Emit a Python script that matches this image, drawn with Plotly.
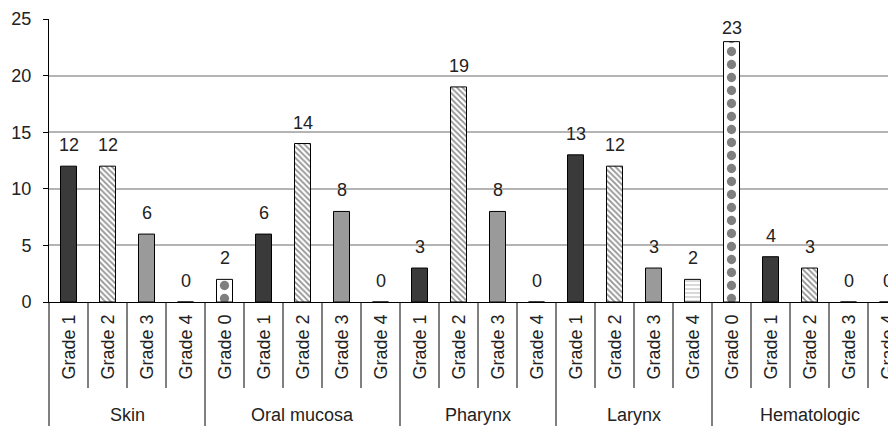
import plotly.graph_objects as go

# ---- data ----
organs = ["Skin", "Oral mucosa", "Pharynx", "Larynx", "Hematologic"]
skin_grades = ["Grade 1", "Grade 2", "Grade 3", "Grade 4"]
skin_values = [12, 12, 6, 0]
oral_grades = ["Grade 0", "Grade 1", "Grade 2", "Grade 3", "Grade 4"]
oral_values = [2, 6, 14, 8, 0]
pharynx_grades = ["Grade 1", "Grade 2", "Grade 3", "Grade 4"]
pharynx_values = [3, 19, 8, 0]
larynx_grades = ["Grade 1", "Grade 2", "Grade 3", "Grade 4"]
larynx_values = [13, 12, 3, 2]
hema_grades = ["Grade 0", "Grade 1", "Grade 2", "Grade 3", "Grade 4"]
hema_values = [23, 4, 3, 0, 0]
grade_names = ["Grade 0", "Grade 1", "Grade 2", "Grade 3", "Grade 4"]
y_ticks = [0, 5, 10, 15, 20, 25]

groups = [skin_grades, oral_grades, pharynx_grades, larynx_grades, hema_grades]
group_vals = [skin_values, oral_values, pharynx_values, larynx_values, hema_values]

# ---- styles per grade ----
style = {
    "Grade 0": dict(color="white", shape=".", fg="black", size=13, sol=0.4),
    "Grade 1": dict(color="#3a3a3a", shape="", fg="black", size=8, sol=0.3),
    "Grade 2": dict(color="white", shape="\\", fg="#222222", size=4, sol=0.45),
    "Grade 3": dict(color="#9a9a9a", shape="", fg="black", size=8, sol=0.3),
    "Grade 4": dict(color="white", shape="-", fg="#666666", size=4, sol=0.25),
}

xs, ys, labels = [], [], []
i = 0
bounds = []
for g, (grs, vals) in enumerate(zip(groups, group_vals)):
    start = i
    for gr, v in zip(grs, vals):
        xs.append(i)
        ys.append(v)
        labels.append(gr)
        i += 1
    bounds.append((start, i - 1))

FONT = "Liberation Sans, Arial, sans-serif"
TXT = "#222222"
FS = 18

fig = go.Figure()
for gname in grade_names:
    st = style[gname]
    gx = [x for x, l in zip(xs, labels) if l == gname]
    gy = [y for y, l in zip(ys, labels) if l == gname]
    marker = dict(color=st["color"], line=dict(color="black", width=1))
    if st["shape"]:
        marker["pattern"] = dict(shape=st["shape"], fgcolor=st["fg"],
                                 bgcolor=st["color"], size=st["size"],
                                 solidity=st["sol"])
    fig.add_trace(go.Bar(x=gx, y=gy, width=0.41, marker=marker,
                         name=gname, showlegend=False))

# page body has an 8px margin; size the figure to fit the 896x426 window
W, H = 888, 418
ml, mr, mt, mb = 41, 0, 11, 124
cat_w = 39
span = (W - ml - mr) / cat_w
plot_h = H - mt - mb

def below(px):
    return -px / plot_h

annotations = []
ymax = max(ys)
for x, v in zip(xs, ys):
    annotations.append(dict(
        x=x, y=v, xref="x", yref="y", text=str(v), showarrow=False,
        yanchor="middle", yshift=21 if v < ymax else 14,
        font=dict(family=FONT, size=FS, color=TXT),
    ))
for x, l in zip(xs, labels):
    annotations.append(dict(
        x=x, y=below(45), xref="x", yref="paper", text=l, showarrow=False,
        textangle=-90, xanchor="center", yanchor="middle",
        font=dict(family=FONT, size=FS, color=TXT),
    ))
shapes = []
for g, (a, b) in enumerate(bounds):
    annotations.append(dict(
        x=(a + b) / 2, y=below(113), xref="x", yref="paper", text=organs[g],
        showarrow=False, xanchor="center", yanchor="middle",
        font=dict(family=FONT, size=FS, color=TXT),
    ))
    for k in range(a, b):
        shapes.append(dict(type="line", xref="x", yref="paper",
                           x0=k + 0.5, x1=k + 0.5, y0=0, y1=below(86),
                           line=dict(color="black", width=1)))
    shapes.append(dict(type="line", xref="x", yref="paper",
                       x0=b + 0.5, x1=b + 0.5, y0=0, y1=below(mb),
                       line=dict(color="black", width=1)))
shapes.append(dict(type="line", xref="paper", yref="paper",
                   x0=0, x1=0, y0=0, y1=below(mb),
                   line=dict(color="black", width=1)))

fig.update_layout(
    width=W, height=H,
    margin=dict(l=ml, r=mr, t=mt, b=mb, autoexpand=False),
    paper_bgcolor="white", plot_bgcolor="white",
    font=dict(family=FONT, size=FS, color=TXT),
    barmode="overlay",
    xaxis=dict(range=[-0.5, -0.5 + span], showticklabels=False, ticks="",
               showgrid=False, zeroline=False, showline=True,
               linecolor="black", linewidth=1, fixedrange=True,
               automargin=False),
    yaxis=dict(range=[0, 25], tickvals=y_ticks, ticks="outside", ticklen=5,
               tickcolor="black", showline=True, linecolor="black", linewidth=1,
               showgrid=True, gridcolor="#b4b4b4", gridwidth=1.5,
               zeroline=False, tickfont=dict(family=FONT, size=FS, color=TXT),
               ticklabelstandoff=8,
               fixedrange=True, automargin=False),
    annotations=annotations,
    shapes=shapes,
)

fig.write_html("out.html")
